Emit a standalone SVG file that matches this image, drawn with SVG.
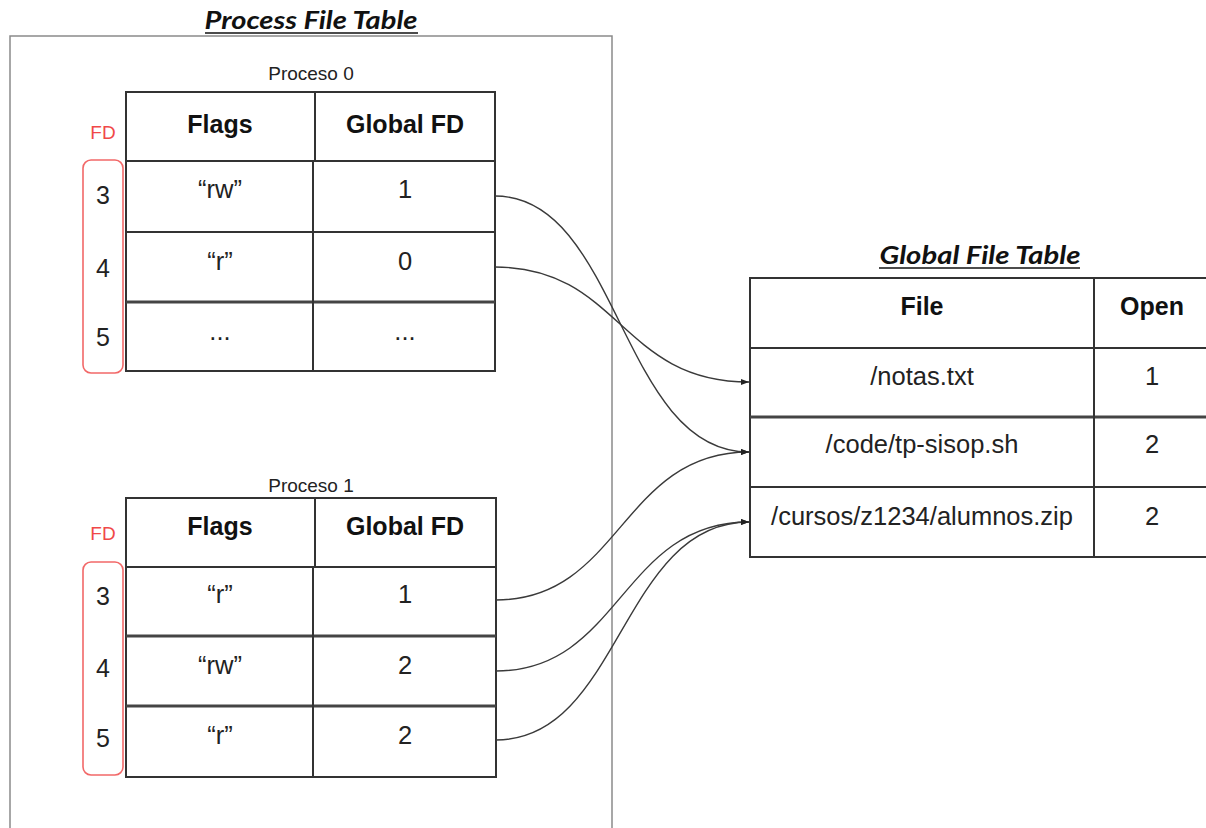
<svg xmlns="http://www.w3.org/2000/svg" width="1206" height="828" viewBox="0 0 1206 828">
  <style>
    .title { font-family: Lato, "Open Sans", sans-serif; font-weight: bold; font-style: italic; font-size: 24px; fill: #111; text-anchor: middle; }
    .uline { stroke: #111; stroke-width: 1.5; }
    .frame { fill: none; stroke: #8a8a8a; stroke-width: 1.5; }
    .caption { font-family: "Liberation Sans", Arial, sans-serif; font-size: 19px; fill: #222; text-anchor: middle; }
    .cell { fill: #fff; stroke: #333; stroke-width: 2; }
    .rule { stroke: #333; stroke-width: 2; }
    .thick { stroke: #444; stroke-width: 3; }
    .head { font-family: "Liberation Sans", Arial, sans-serif; font-weight: bold; font-size: 25px; fill: #111; text-anchor: middle; }
    .data { font-family: "Liberation Sans", Arial, sans-serif; font-size: 25.5px; fill: #222; text-anchor: middle; }
    .fdnum { font-family: "Liberation Sans", Arial, sans-serif; font-size: 25px; fill: #222; text-anchor: middle; }
    .fdlabel { font-family: "Liberation Sans", Arial, sans-serif; font-size: 19px; fill: #f04848; text-anchor: middle; }
    .bracket { fill: none; stroke: #f26868; stroke-width: 1.6; }
    .link { fill: none; stroke: #3a3a3a; stroke-width: 1.4; }
  </style>
  <defs>
    <marker id="arrow" markerUnits="userSpaceOnUse" markerWidth="9" markerHeight="8" refX="8" refY="4" orient="auto">
      <path d="M0,1 L8,4 L0,7 z" fill="#222"/>
    </marker>
  </defs>

  <rect width="1206" height="828" fill="#fff"/>

  <!-- Process file table frame and heading -->
  <g id="process-file-table">
    <text class="title" x="311" y="29" textLength="213" lengthAdjust="spacingAndGlyphs">Process File Table</text>
    <line class="uline" x1="205" y1="33" x2="418" y2="33"/>
    <path class="frame" d="M10,840 V36 H612 V840"/>
  </g>

  <!-- Proceso 0 -->
  <g id="proceso-0">
    <text class="caption" x="311" y="80">Proceso 0</text>
    <rect class="cell" x="126" y="92" width="369" height="279"/>
    <line class="rule" x1="126" y1="161" x2="495" y2="161"/>
    <line class="rule" x1="126" y1="232" x2="495" y2="232"/>
    <line class="thick" x1="126" y1="302" x2="495" y2="302"/>
    <line class="rule" x1="315" y1="92" x2="315" y2="161"/>
    <line class="rule" x1="313" y1="161" x2="313" y2="371"/>
    <text class="head" x="220" y="133">Flags</text>
    <text class="head" x="405" y="133">Global FD</text>
    <text class="data" x="220" y="198">“rw”</text>
    <text class="data" x="405" y="198">1</text>
    <text class="data" x="220" y="270">“r”</text>
    <text class="data" x="405" y="270">0</text>
    <text class="data" x="220" y="340">...</text>
    <text class="data" x="405" y="340">...</text>
    <text class="fdlabel" x="103" y="139">FD</text>
    <rect class="bracket" x="83" y="160" width="40" height="213" rx="8"/>
    <text class="fdnum" x="103" y="204">3</text>
    <text class="fdnum" x="103" y="277">4</text>
    <text class="fdnum" x="103" y="346">5</text>
  </g>

  <!-- Proceso 1 -->
  <g id="proceso-1">
    <text class="caption" x="311" y="492">Proceso 1</text>
    <rect class="cell" x="126" y="498" width="370" height="279"/>
    <line class="rule" x1="126" y1="567" x2="496" y2="567"/>
    <line class="thick" x1="126" y1="636" x2="496" y2="636"/>
    <line class="thick" x1="126" y1="706" x2="496" y2="706"/>
    <line class="rule" x1="315" y1="498" x2="315" y2="567"/>
    <line class="rule" x1="313" y1="567" x2="313" y2="777"/>
    <text class="head" x="220" y="535">Flags</text>
    <text class="head" x="405" y="535">Global FD</text>
    <text class="data" x="220" y="603">“r”</text>
    <text class="data" x="405" y="603">1</text>
    <text class="data" x="220" y="674">“rw”</text>
    <text class="data" x="405" y="674">2</text>
    <text class="data" x="220" y="744">“r”</text>
    <text class="data" x="405" y="744">2</text>
    <text class="fdlabel" x="103" y="540">FD</text>
    <rect class="bracket" x="83" y="562" width="40" height="213" rx="8"/>
    <text class="fdnum" x="103" y="605">3</text>
    <text class="fdnum" x="103" y="677">4</text>
    <text class="fdnum" x="103" y="747">5</text>
  </g>

  <!-- Global file table -->
  <g id="global-file-table">
    <text class="title" x="980" y="264" textLength="201" lengthAdjust="spacingAndGlyphs">Global File Table</text>
    <line class="uline" x1="879" y1="268" x2="1080" y2="268"/>
    <rect class="cell" x="750" y="278" width="470" height="279"/>
    <line class="rule" x1="750" y1="348" x2="1220" y2="348"/>
    <line class="thick" x1="750" y1="417" x2="1220" y2="417"/>
    <line class="rule" x1="750" y1="487" x2="1220" y2="487"/>
    <line class="rule" x1="1094" y1="278" x2="1094" y2="557"/>
    <text class="head" x="922" y="315">File</text>
    <text class="head" x="1152" y="315">Open</text>
    <text class="data" x="922" y="385">/notas.txt</text>
    <text class="data" x="1152" y="385">1</text>
    <text class="data" x="922" y="453">/code/tp-sisop.sh</text>
    <text class="data" x="1152" y="453">2</text>
    <text class="data" x="922" y="525">/cursos/z1234/alumnos.zip</text>
    <text class="data" x="1152" y="525">2</text>
  </g>

  <!-- Descriptor links: process entries to global entries -->
  <g id="connectors">
    <path class="link" marker-end="url(#arrow)" d="M495,196 C620,196 620,452 749,452"/>
    <path class="link" marker-end="url(#arrow)" d="M495,267 C620,267 620,382 749,382"/>
    <path class="link" marker-end="url(#arrow)" d="M496,600 C621,600 621,452 749,452"/>
    <path class="link" marker-end="url(#arrow)" d="M496,671 C621,671 621,522 749,522"/>
    <path class="link" marker-end="url(#arrow)" d="M496,740 C621,740 621,522 749,522"/>
  </g>
</svg>
